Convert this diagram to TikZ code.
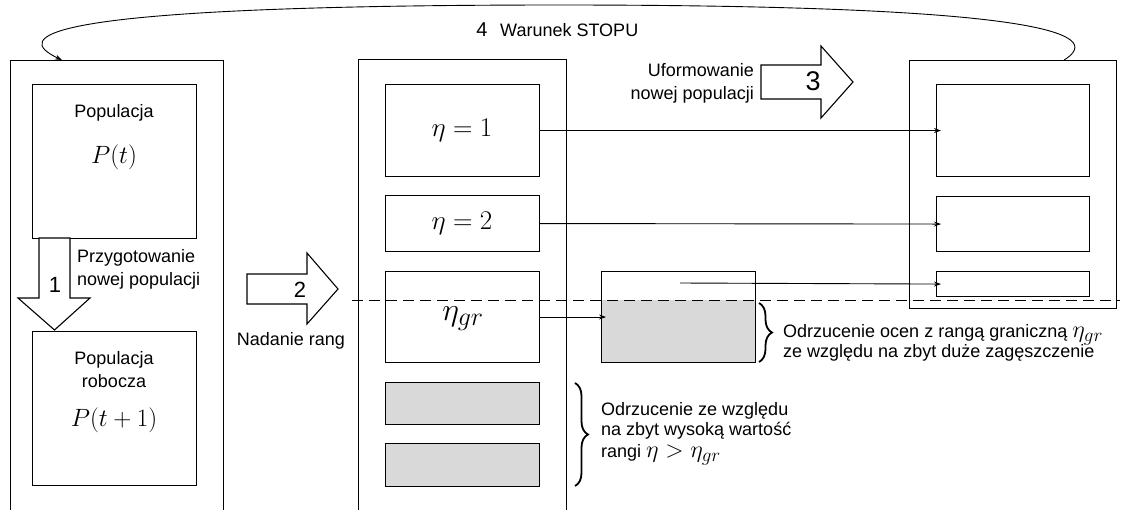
\RequirePackage{fix-cm}
\documentclass[tikz,border=0pt]{standalone}
\usepackage{graphicx}
\usepackage[no-math]{fontspec}
\setmainfont{Liberation Sans}
\usetikzlibrary{arrows.meta,decorations.pathreplacing}
\definecolor{rejgray}{RGB}{217,217,217}
% math sizes with large subscripts
\DeclareMathSizes{24}{24}{19}{14}
\DeclareMathSizes{25}{25}{20}{15}
\DeclareMathSizes{27}{27}{20}{15}
\DeclareMathSizes{32}{32}{26}{20}
\newcommand{\lblmath}[1]{{\fontsize{24}{20.5}\selectfont$#1$}}
\begin{document}
\begin{tikzpicture}[x=1pt,y=-1pt,
  frame/.style={draw,line width=1.1pt,inner sep=0pt,anchor=north west},
  lbl/.style={font=\fontsize{18}{23}\selectfont,inner sep=0pt},
  mth/.style={font=\fontsize{27}{30}\selectfont,inner sep=0pt},
  pmth/.style={font=\fontsize{25}{30}\selectfont,inner sep=0pt},
  num/.style={font=\fontsize{22}{22}\selectfont,inner sep=0pt},
  link/.style={line width=0.9pt,-{Stealth[length=7pt,width=5pt]}},
  blockarrow/.style={draw,line width=1.1pt,fill=white,line join=miter},
  curly/.style={decorate,decoration={brace,amplitude=13pt},line width=1.8pt},
  cut/.style={line width=1pt,dash pattern=on 11pt off 6pt},
]
\useasboundingbox (0,0) rectangle (1122,509);
\clip (0,0) rectangle (1122,509);

% left column: current and working population
\node[frame,minimum width=213pt,minimum height=470pt] (L) at (10,60) {};
\node[frame,minimum width=164pt,minimum height=154pt] (P1) at (32,84) {};
\node[frame,minimum width=164pt,minimum height=154pt] (P2) at (32,331) {};
\node[lbl] (p1a) at (114,113) {Populacja};
\node[pmth] (p1b) at (114,157) {$P(t)$};
\node[lbl,align=center] (p2a) at (114,370) {Populacja\\robocza};
\node[pmth] (p2b) at (114,420) {$P(t+1)$};

% middle column: ranked fronts
\node[frame,minimum width=208pt,minimum height=470pt] (M) at (358,59) {};
\node[frame,minimum width=154pt,minimum height=92pt] (E1) at (385,84) {};
\node[frame,minimum width=154pt,minimum height=56pt] (E2) at (385,195) {};
\node[frame,minimum width=154pt,minimum height=91pt] (EG) at (385,271) {};
\node[frame,fill=rejgray,minimum width=154pt,minimum height=42pt] (G1) at (385,382) {};
\node[frame,fill=rejgray,minimum width=154pt,minimum height=43pt] (G2) at (385,443) {};
\node[mth] (e1) at (462,130) {$\eta=1$};
\node[mth] (e2) at (462,223) {$\eta=2$};
\node[mth,font=\fontsize{32}{34}\selectfont] (eg) at (463,319) {$\eta_{gr}$};

% boundary front, partly rejected
\fill[rejgray] (601,300) rectangle (755,362);
\node[frame,minimum width=154pt,minimum height=91pt] (S) at (601,271) {};

% right column: new population
\node[frame,minimum width=207pt,minimum height=248pt] (R) at (909,60) {};
\node[frame,minimum width=153pt,minimum height=92pt] (R1) at (936,84) {};
\node[frame,minimum width=153pt,minimum height=55pt] (R2) at (936,196) {};
\node[frame,minimum width=153pt,minimum height=25pt] (R3) at (936,271) {};

% block arrows for the steps
\draw[blockarrow] (39,238) -- (70,238) -- (70,298) -- (90,298) -- (54.5,330)
  -- (18,298) -- (39,298) -- cycle;
\draw[blockarrow] (247,274) -- (307,274) -- (307,253) -- (338,289) -- (307,324)
  -- (307,304) -- (247,304) -- cycle;
\draw[blockarrow] (761,65) -- (821,65) -- (821,46) -- (853,82) -- (821,118)
  -- (821,99) -- (761,99) -- cycle;
\node[num] (n1) at (55,285) {1};
\node[num] (n2) at (300,290) {2};
\node[num,font=\fontsize{27}{27}\selectfont] (n3) at (813,81) {3};
\node[lbl,anchor=west,align=left] (t1) at (77,269) {Przygotowanie\\nowej populacji};
\node[lbl] (t2) at (291,341) {Nadanie rang};
\node[lbl,anchor=east,align=right] (t3) at (754,83) {Uformowanie\\nowej populacji};

% transfers between columns
\draw[link,shorten >=-5pt] (E1.east) -- (R1.west);
\draw[link,shorten >=-5pt] (E2.east) -- (R2.west);
\draw[link,shorten >=-5pt] (EG.east) -- (S.west);
\coordinate (skeep) at (680,283);
\draw[link,shorten >=-5pt] (skeep) -- (R3.west);

% crowding cut
\coordinate (dl) at (352,300);
\coordinate (dr) at (1120,300);
\draw[cut] (dl) -- (dr);

% rejection notes
\draw[curly] (759,303) -- (759,362);
\node[lbl,anchor=west,align=left,font=\fontsize{18}{20.5}\selectfont] (r1) at (783,343)
  {Odrzucenie ocen z rangą graniczną \lblmath{\eta_{gr}}\\ze względu na zbyt duże zagęszczenie};
\draw[curly] (575,383) -- (575,486);
\node[lbl,anchor=west,align=left,font=\fontsize{18}{20}\selectfont] (r2) at (601,434)
  {Odrzucenie ze względu\\na zbyt wysoką wartość\\[2pt]rangi \lblmath{\eta>\eta_{gr}}};

% stop condition loop
\coordinate (top) at (560,5);
\draw[link] ([xshift=-53pt]R.north east) .. controls +(32,-20) and (1090,5) .. (top)
  .. controls (20,5) and (15,38) .. ([xshift=52pt]L.north west);
\node[num,font=\fontsize{20}{20}\selectfont] (n4) at (482,30) {4};
\node[lbl,anchor=west] (t4) at (500,30) {Warunek STOPU};
\end{tikzpicture}
\end{document}
